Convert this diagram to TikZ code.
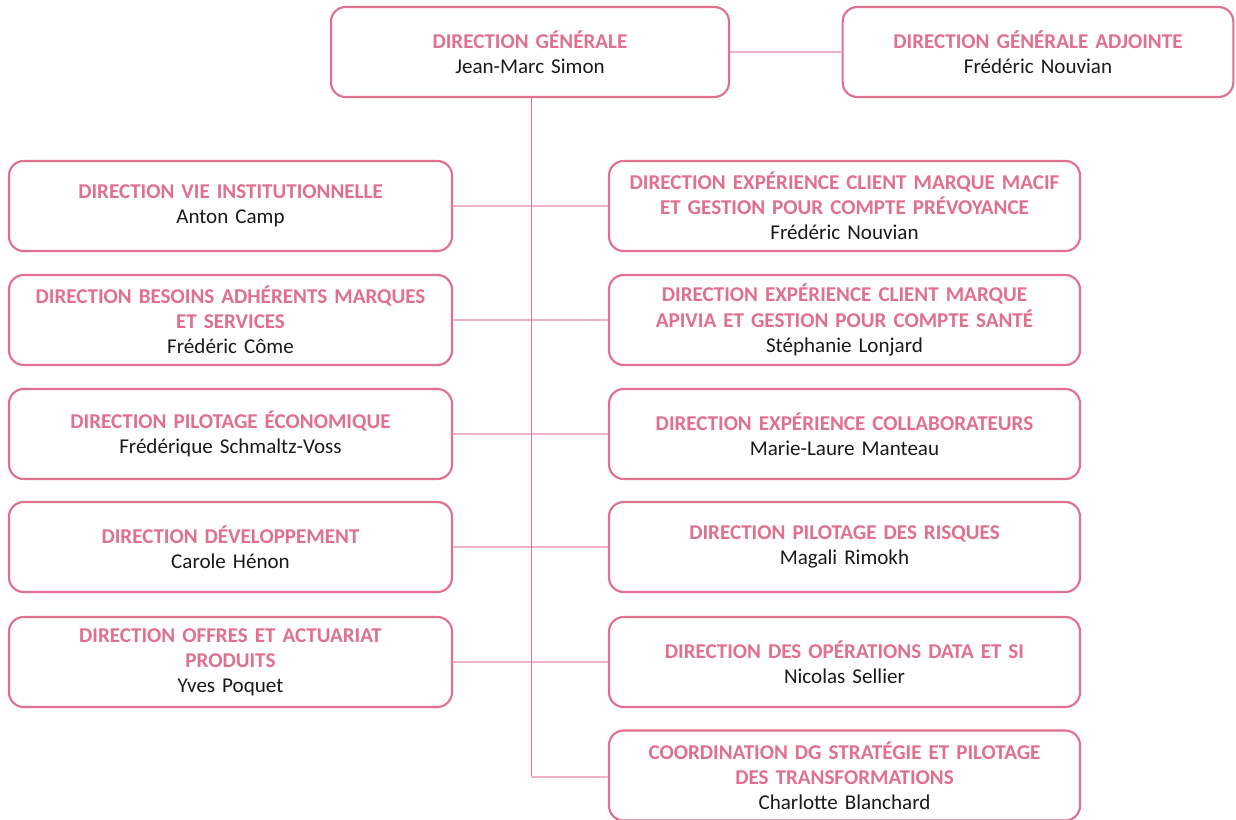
\documentclass[tikz,border=0pt]{standalone}
\usepackage{fontspec}
\setmainfont{Carlito}
\definecolor{pk}{HTML}{E1708E}
\definecolor{pklight}{HTML}{F0B3C3}
\definecolor{txt}{HTML}{1A1A1A}
\begin{document}
\begin{tikzpicture}[x=0.75pt,y=-0.75pt,
  box/.style={draw=pk, line width=1.6pt, rounded corners=11pt, fill=white,
    minimum height=67.5pt, inner sep=0pt, align=center, text=txt,
    font=\fontsize{15.8}{18.8}\selectfont},
  lbox/.style={box, minimum width=332.25pt, text width=320pt},
  rbox/.style={box, minimum width=353.25pt, text width=340pt},
  ttl/.style={},
  link/.style={draw=pklight, line width=0.9pt},
  vlink/.style={draw=pk, line width=0.75pt}]
\useasboundingbox (0,0) rectangle (1236,820);
\newcommand{\tl}[1]{{\color{pk}\bfseries #1}}
% top
\node[box, minimum width=298.5pt, text width=290pt] (dg) at (530,52) {\tl{DIRECTION GÉNÉRALE}\\Jean-Marc Simon};
\node[box, minimum width=293pt, text width=285pt] (dga) at (1038,52) {\tl{DIRECTION GÉNÉRALE ADJOINTE}\\Frédéric Nouvian};
% left
\node[lbox] (l1) at (230.5,206) {\tl{DIRECTION VIE INSTITUTIONNELLE}\\Anton Camp};
\node[lbox] (l2) at (230.5,320) {\tl{DIRECTION BESOINS ADHÉRENTS MARQUES}\\\tl{ET SERVICES}\\Frédéric Côme};
\node[lbox] (l3) at (230.5,434) {\tl{DIRECTION PILOTAGE ÉCONOMIQUE}\\Frédérique Schmaltz-Voss};
\node[lbox] (l4) at (230.5,547) {\tl{DIRECTION DÉVELOPPEMENT}\\Carole Hénon};
\node[lbox] (l5) at (230.5,662) {\tl{DIRECTION OFFRES ET ACTUARIAT}\\\tl{PRODUITS}\\Yves Poquet};
% right
\node[rbox] (r1) at (844.5,206) {\tl{DIRECTION EXPÉRIENCE CLIENT MARQUE MACIF}\\\tl{ET GESTION POUR COMPTE PRÉVOYANCE}\\Frédéric Nouvian};
\node[rbox] (r2) at (844.5,320) {\tl{DIRECTION EXPÉRIENCE CLIENT MARQUE}\\\tl{APIVIA ET GESTION POUR COMPTE SANTÉ}\\Stéphanie Lonjard};
\node[rbox] (r3) at (844.5,434) {\tl{DIRECTION EXPÉRIENCE COLLABORATEURS}\\Marie-Laure Manteau};
\node[rbox] (r4) at (844.5,547) {\tl{DIRECTION PILOTAGE DES RISQUES}\\Magali Rimokh};
\node[rbox] (r5) at (844.5,662) {\tl{DIRECTION DES OPÉRATIONS DATA ET SI}\\Nicolas Sellier};
\node[rbox] (r6) at (844.5,775.5) {\tl{COORDINATION DG STRATÉGIE ET PILOTAGE}\\\tl{DES TRANSFORMATIONS}\\Charlotte Blanchard};
% connectors
\begin{scope}[on background layer/.try]
\end{scope}
\draw[link] (dg.east) -- (dga.west);
\foreach \i in {1,...,5} { \draw[link] (l\i.east) -- (r\i.west); }
\coordinate (vb) at (531,777);
\draw[vlink] (dg.south -| vb) -- (vb);
\draw[link] (vb) -- (vb -| r6.west);
\end{tikzpicture}
\end{document}
